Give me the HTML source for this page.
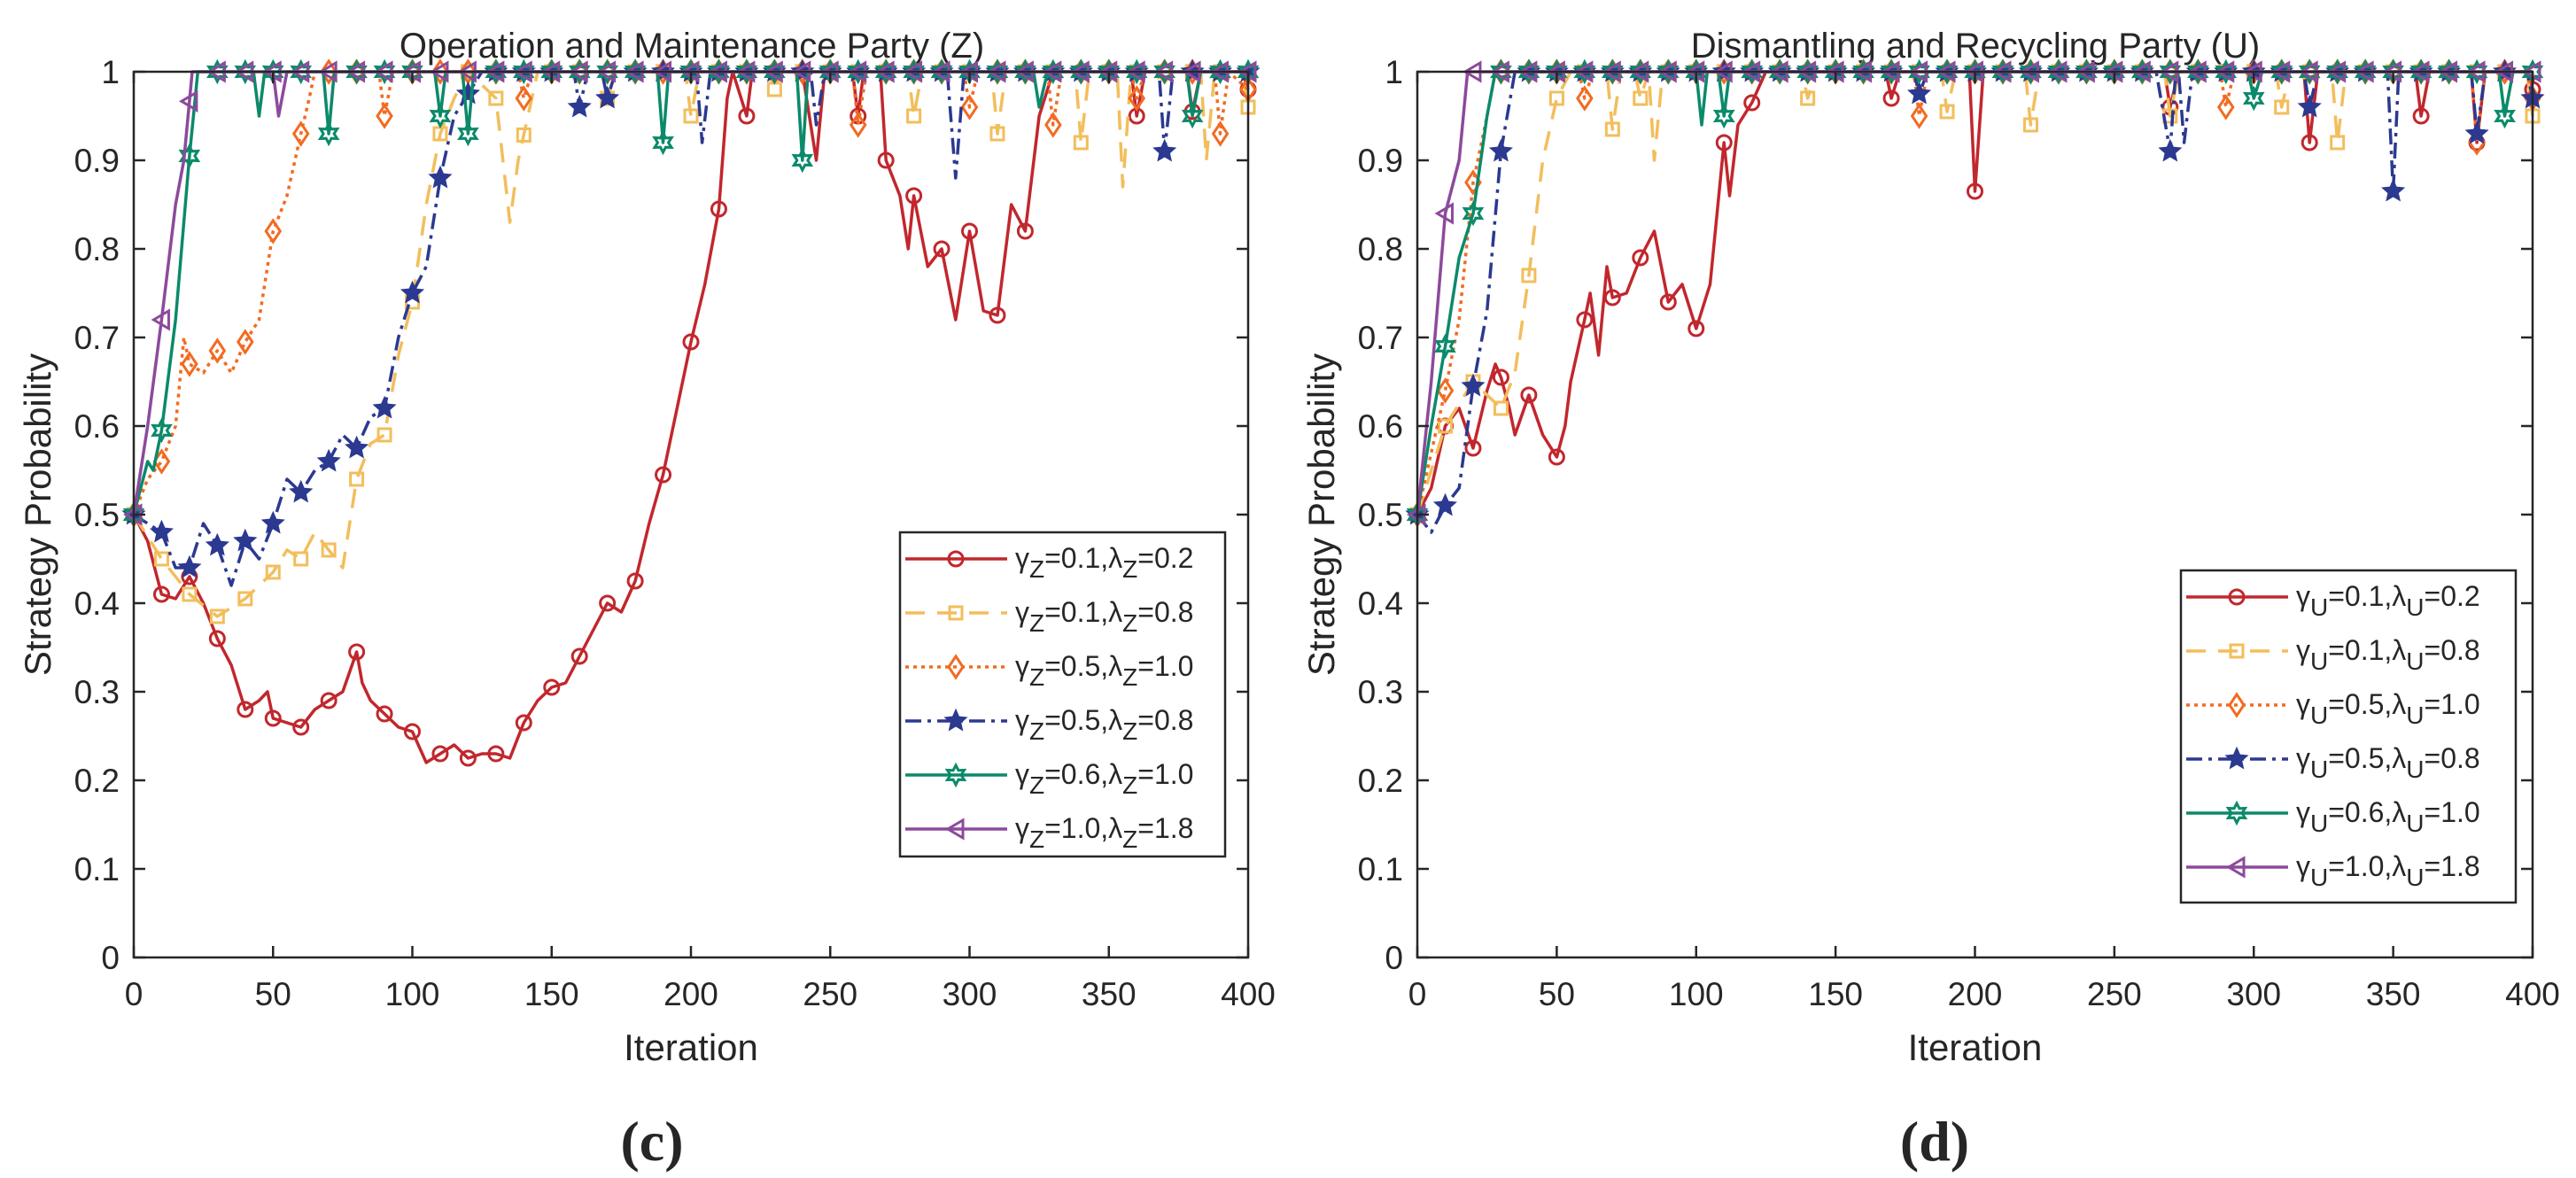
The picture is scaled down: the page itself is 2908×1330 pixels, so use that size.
<!DOCTYPE html>
<html><head><meta charset="utf-8"><style>html,body{margin:0;padding:0;background:#fff}svg{display:block}text{font-family:"Liberation Sans",sans-serif;fill:#262626}</style></head>
<body>
<svg id="svg" width="2908" height="1330" viewBox="0 0 2908 1330" xmlns="http://www.w3.org/2000/svg"></svg>
<script>
const xTicks=[0,50,100,150,200,250,300,350,400];
const yTicks=[0,0.1,0.2,0.3,0.4,0.5,0.6,0.7,0.8,0.9,1];
const yTickLabels=["0","0.1","0.2","0.3","0.4","0.5","0.6","0.7","0.8","0.9","1"];
const paramsZ=["0.1|0.2","0.1|0.8","0.5|1.0","0.5|0.8","0.6|1.0","1.0|1.8"];
// left chart (Z)
const zRedX=[0,5,10,15,20,25,30,35,40,45,48,50,55,60,65,70,75,80,82,85,90,95,100,105,110,115,120,125,130,135,140,145,150,155,160,165,170,175,180,185,190,195,200,205,210,213,215,220,222,240,243,245,248,258,260,262,268,270,275,278,280,285,290,295,300,305,310,315,320,325,330,358,360,363,378,380,383,398,400];
const zRedY=[0.5,0.47,0.41,0.405,0.43,0.4,0.36,0.33,0.28,0.29,0.3,0.27,0.265,0.26,0.28,0.29,0.3,0.345,0.31,0.29,0.275,0.26,0.255,0.22,0.23,0.24,0.225,0.23,0.23,0.225,0.265,0.29,0.305,0.31,0.34,0.37,0.4,0.39,0.425,0.49,0.545,0.62,0.695,0.76,0.845,0.97,1,0.95,1,1,0.94,0.9,1,1,0.95,1,1,0.9,0.86,0.8,0.86,0.78,0.8,0.72,0.82,0.73,0.725,0.85,0.82,0.95,1,1,0.95,1,1,0.955,1,1,0.98];
const zGoldX=[0,10,20,30,40,50,55,60,65,70,75,80,85,90,95,100,105,110,115,120,130,135,138,145,168,170,173,198,200,203,228,230,233,278,280,283,308,310,313,338,340,343,353,355,358,383,385,388,398,400];
const zGoldY=[0.5,0.45,0.41,0.385,0.405,0.435,0.46,0.45,0.48,0.46,0.44,0.54,0.58,0.59,0.68,0.74,0.85,0.93,0.97,1,0.97,0.83,0.9,1,1,0.97,1,1,0.95,1,1,0.98,1,1,0.95,1,1,0.93,1,1,0.92,1,1,0.87,1,1,0.9,1,1,0.96];
const zOrangeX=[0,5,10,15,18,20,25,30,35,40,45,50,55,60,63,65,88,90,93,138,140,143,258,260,263,298,300,303,328,330,333,358,360,363,388,390,393,400];
const zOrangeY=[0.5,0.54,0.56,0.6,0.7,0.67,0.66,0.685,0.66,0.695,0.72,0.82,0.86,0.93,0.97,1,1,0.95,1,1,0.97,1,1,0.94,1,1,0.96,1,1,0.94,1,1,0.97,1,1,0.93,1,0.98];
const zBlueX=[0,5,10,15,20,25,30,35,40,45,50,55,60,65,70,75,80,85,90,95,100,105,110,115,125,158,160,163,168,170,173,202,204,207,243,245,248,292,295,298,368,370,373,400];
const zBlueY=[0.5,0.49,0.48,0.44,0.44,0.49,0.465,0.42,0.47,0.45,0.49,0.54,0.525,0.55,0.56,0.59,0.575,0.61,0.62,0.7,0.75,0.78,0.88,0.95,1,1,0.96,1,1,0.97,1,1,0.92,1,1,0.94,1,1,0.88,1,1,0.91,1,1];
const zGreenX=[0,5,7,10,15,20,23,43,45,47,68,70,72,108,110,112,118,120,122,188,190,192,238,240,242,323,325,328,378,380,383,400];
const zGreenY=[0.5,0.56,0.55,0.595,0.72,0.905,1,1,0.95,1,1,0.93,1,1,0.95,1,1,0.93,1,1,0.92,1,1,0.9,1,1,0.96,1,1,0.95,1,1];
const zPurpleX=[0,5,10,15,18,21,50,52,55,400];
const zPurpleY=[0.5,0.6,0.72,0.85,0.9,1,1,0.95,1,1];
// right chart (U)
const uRedX=[0,5,10,15,20,25,28,30,33,35,40,45,50,53,55,60,62,65,68,70,75,80,85,90,95,100,105,110,112,115,120,125,168,170,173,198,200,203,268,270,273,318,320,323,358,360,363,378,380,383,398,400];
const uRedY=[0.5,0.53,0.6,0.62,0.575,0.64,0.67,0.655,0.62,0.59,0.635,0.59,0.565,0.6,0.65,0.72,0.75,0.68,0.78,0.745,0.75,0.79,0.82,0.74,0.76,0.71,0.76,0.92,0.86,0.94,0.965,1,1,0.97,1,1,0.865,1,1,0.96,1,1,0.92,1,1,0.95,1,1,0.92,1,1,0.98];
const uGoldX=[0,10,20,30,35,40,45,50,55,68,70,73,78,80,83,85,88,138,140,143,188,190,193,218,220,223,268,270,273,308,310,313,328,330,333,398,400];
const uGoldY=[0.5,0.6,0.65,0.62,0.66,0.77,0.9,0.97,1,1,0.935,1,1,0.97,1,0.9,1,1,0.97,1,1,0.955,1,1,0.94,1,1,0.95,1,1,0.96,1,1,0.92,1,1,0.95];
const uOrangeX=[0,10,15,20,25,28,58,60,63,178,180,183,288,290,293,378,380,383,398,400];
const uOrangeY=[0.5,0.64,0.72,0.875,0.95,1,1,0.97,1,1,0.95,1,1,0.96,1,1,0.92,1,1,0.97];
const uBlueX=[0,5,10,15,20,25,30,35,178,180,183,265,270,272,273,275,278,318,320,323,348,350,352,378,380,383,398,400];
const uBlueY=[0.5,0.48,0.51,0.53,0.645,0.73,0.91,1,1,0.975,1,1,0.91,1,1,0.92,1,1,0.96,1,1,0.865,1,1,0.93,1,1,0.97];
const uGreenX=[0,5,10,15,20,25,28,100,102,104,108,110,112,298,300,303,388,390,393,400];
const uGreenY=[0.5,0.6,0.69,0.79,0.84,0.95,1,1,0.94,1,1,0.95,1,1,0.97,1,1,0.95,1,1];
const uPurpleX=[0,5,10,15,18,400];
const uPurpleY=[0.5,0.65,0.84,0.9,1,1];

const NS="http://www.w3.org/2000/svg";
const svg=document.getElementById('svg');
function mk(tag,attrs,parent){const e=document.createElementNS(NS,tag);for(const k in attrs)e.setAttribute(k,attrs[k]);(parent||svg).appendChild(e);return e;}
const styles=[
 {c:'#c1272d',dash:'',m:'circle'},
 {c:'#f2be5c',dash:'22 14',m:'square'},
 {c:'#f26b21',dash:'4 5',m:'diamond'},
 {c:'#2b3990',dash:'18 7 4 7',m:'star'},
 {c:'#0b8a6a',dash:'',m:'hexagram'},
 {c:'#8c4a9c',dash:'',m:'triangle'}];
function marker(g,type,x,y,c,name){
 let e;
 if(type==='circle')e=mk('circle',{cx:x,cy:y,r:8,fill:'none',stroke:c,'stroke-width':3},g);
 else if(type==='square')e=mk('rect',{x:x-7,y:y-7,width:14,height:14,fill:'none',stroke:c,'stroke-width':3},g);
 else if(type==='diamond')e=mk('polygon',{points:`${x},${y-12} ${x+8},${y} ${x},${y+12} ${x-8},${y}`,fill:'none',stroke:c,'stroke-width':3},g);
 else if(type==='star'){let p=[];for(let i=0;i<10;i++){const r=i%2?6:13,a=-Math.PI/2+i*Math.PI/5;p.push((x+r*Math.cos(a)).toFixed(1)+','+(y+r*Math.sin(a)).toFixed(1));}e=mk('polygon',{points:p.join(' '),fill:c,stroke:c,'stroke-width':1},g);}
 else if(type==='hexagram'){let p=[];for(let i=0;i<12;i++){const r=i%2?6:11,a=-Math.PI/2+i*Math.PI/6;p.push((x+r*Math.cos(a)).toFixed(1)+','+(y+r*Math.sin(a)).toFixed(1));}e=mk('polygon',{points:p.join(' '),fill:'none',stroke:c,'stroke-width':3},g);}
 else e=mk('polygon',{points:`${x-9},${y} ${x+8},${y-10} ${x+8},${y+10}`,fill:'none',stroke:c,'stroke-width':3},g);
 
 
}
function interp(xs,ys,t){for(let i=1;i<xs.length;i++){if(t<=xs[i]){const f=(t-xs[i-1])/(xs[i]-xs[i-1]);return ys[i-1]+f*(ys[i]-ys[i-1]);}}return ys[ys.length-1];}
function drawChart(opt){
 const {x0,x1,y0,y1,title,titleX,sub,series,legend,tag,tagX,id}=opt;
 const sx=v=>x0+v/400*(x1-x0), sy=v=>y0-v*(y0-y1);
 const g=mk('g',{});
 
 
 const t=mk('text',{x:titleX,y:65,'text-anchor':'middle','font-size':40},g);t.textContent=title;
 
 
 series.forEach((s,i)=>{
  const st=styles[i];
  const sg=mk('g',{},g);
  
  
  const d=s.x.map((v,j)=>(j?'L':'M')+sx(v).toFixed(1)+','+sy(s.y[j]).toFixed(1)).join(' ');
  const p=mk('path',{d:d,fill:'none',stroke:st.c,'stroke-width':3.5,'stroke-dasharray':st.dash,'stroke-linejoin':'round'},sg);
  
  
  for(let k=0;k<=400;k+=10){marker(sg,st.m,sx(k),sy(interp(s.x,s.y,k)),st.c,'series-marker');}
 });
 const box=mk('rect',{x:x0,y:y1,width:x1-x0,height:y0-y1,fill:'none',stroke:'#262626','stroke-width':2.5},g);
 
 
 xTicks.forEach(v=>{const X=sx(v);
  mk('line',{x1:X,y1:y0,x2:X,y2:y0-13,stroke:'#262626','stroke-width':2.5},g);
  mk('line',{x1:X,y1:y1,x2:X,y2:y1+13,stroke:'#262626','stroke-width':2.5},g);
  const l=mk('text',{x:X,y:y0+54,'text-anchor':'middle','font-size':37},g);l.textContent=v;
  
  });
 yTicks.forEach((v,i)=>{const Y=sy(v);
  mk('line',{x1:x0,y1:Y,x2:x0+13,y2:Y,stroke:'#262626','stroke-width':2.5},g);
  mk('line',{x1:x1,y1:Y,x2:x1-13,y2:Y,stroke:'#262626','stroke-width':2.5},g);
  const l=mk('text',{x:x0-16,y:Y+13,'text-anchor':'end','font-size':37},g);l.textContent=yTickLabels[i];
  
  });
 const xl=mk('text',{x:(x0+x1)/2,y:1197,'text-anchor':'middle','font-size':42},g);xl.textContent='Iteration';
 
 
 const yl=mk('text',{x:0,y:0,'text-anchor':'middle','font-size':42,transform:`translate(${x0-94},${(y0+y1)/2}) rotate(-90)`},g);yl.textContent='Strategy Probability';
 
 
 const tg=mk('text',{x:tagX,y:1310,'text-anchor':'middle','font-size':64,'font-weight':'bold',style:'font-family:"Liberation Serif",serif'},g);tg.textContent=tag;
 
 
 const lg=mk('g',{},g);
 
 
 mk('rect',{x:legend.x,y:legend.y,width:legend.w,height:legend.h,fill:'#fff',stroke:'#262626','stroke-width':2.5},lg);
 paramsZ.forEach((p,i)=>{const st=styles[i];const Y=legend.y+30+i*61;
  const eg=mk('g',{},lg);
  
  
  mk('line',{x1:legend.x+6,y1:Y,x2:legend.x+121,y2:Y,stroke:st.c,'stroke-width':3.5,'stroke-dasharray':st.dash},eg);
  marker(eg,st.m,legend.x+63,Y,st.c,'legend-marker');
  const [a,b]=p.split('|');
  const tx=mk('text',{x:legend.x+130,y:Y+10,'font-size':32},eg);
  tx.innerHTML=`γ<tspan font-size="28" dy="11">${sub}</tspan><tspan dy="-11">=${a},λ</tspan><tspan font-size="28" dy="11">${sub}</tspan><tspan dy="-11">=${b}</tspan>`;
 });
}
drawChart({id:'chart-z',x0:151,x1:1409,y0:1081,y1:81,title:'Operation and Maintenance Party (Z)',titleX:781,sub:'Z',tag:'(c)',tagX:736,
 series:[{x:zRedX,y:zRedY},{x:zGoldX,y:zGoldY},{x:zOrangeX,y:zOrangeY},{x:zBlueX,y:zBlueY},{x:zGreenX,y:zGreenY},{x:zPurpleX,y:zPurpleY}],
 legend:{x:1016,y:601,w:367,h:366}});
drawChart({id:'chart-u',x0:1600,x1:2859,y0:1081,y1:81,title:'Dismantling and Recycling Party (U)',titleX:2230,sub:'U',tag:'(d)',tagX:2184,
 series:[{x:uRedX,y:uRedY},{x:uGoldX,y:uGoldY},{x:uOrangeX,y:uOrangeY},{x:uBlueX,y:uBlueY},{x:uGreenX,y:uGreenY},{x:uPurpleX,y:uPurpleY}],
 legend:{x:2462,y:644,w:378,h:375}});
</script>
</body></html>
